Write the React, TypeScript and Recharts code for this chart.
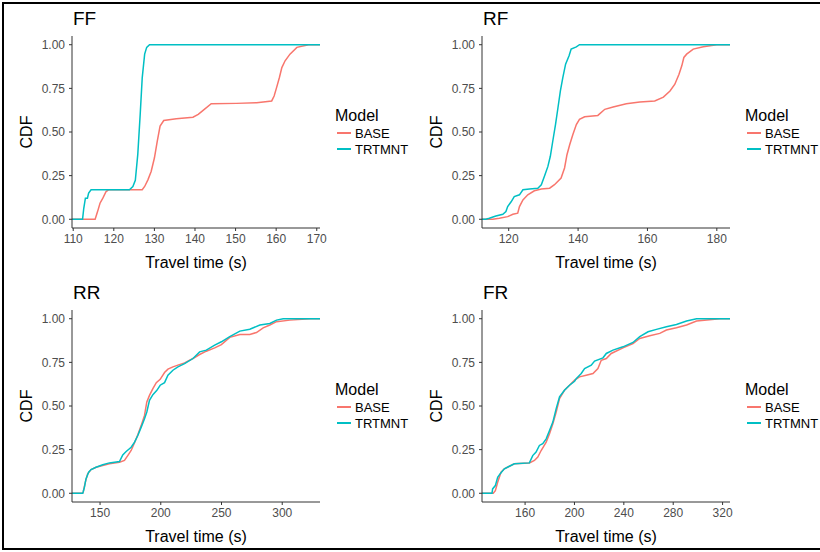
import React from 'react';
import { LineChart, Line, XAxis, YAxis, Label } from 'recharts';

const BASE_COLOR = '#F8766D';
const TRT_COLOR = '#00BFC4';
const FONT = '"Liberation Sans", Arial, sans-serif';

// ECDF: [travel time (s), CDF]
const ffBase: [number, number][] = [
  [109.7, 0], [115.4, 0], [116.0, 0.044], [116.6, 0.092], [117.3, 0.121], [118.1, 0.159],
  [118.7, 0.169], [127.0, 0.169], [127.6, 0.188], [128.4, 0.226], [129.2, 0.274], [130.0, 0.351],
  [130.7, 0.447], [131.4, 0.534], [132.3, 0.566], [135.4, 0.576], [139.5, 0.585], [140.8, 0.601],
  [142.0, 0.624], [144.0, 0.662], [150.2, 0.664], [155.2, 0.668], [158.9, 0.678], [159.5, 0.706],
  [160.1, 0.754], [160.8, 0.812], [161.4, 0.869], [162.2, 0.908], [163.4, 0.946], [165.1, 0.985],
  [168.0, 1], [170.8, 1],
];
const ffTrt: [number, number][] = [
  [109.7, 0], [112.3, 0], [112.6, 0.063], [113.0, 0.121], [113.5, 0.121], [113.8, 0.15],
  [114.4, 0.169], [123.85, 0.169], [124.7, 0.188], [125.3, 0.223], [125.9, 0.37], [126.5, 0.6],
  [127.0, 0.81], [127.6, 0.946], [128.1, 0.985], [128.8, 1], [170.8, 1],
];

const rfBase: [number, number][] = [
  [112.3, 0], [115.4, 0], [117.3, 0.006], [119.7, 0.015], [121.2, 0.029], [122.6, 0.035],
  [123.1, 0.073], [124.1, 0.111], [125.5, 0.14], [127.4, 0.163], [129.4, 0.173], [131.8, 0.178],
  [133.2, 0.198], [135.1, 0.236], [136.1, 0.294], [136.8, 0.37], [137.6, 0.428], [138.5, 0.486],
  [139.5, 0.543], [140.4, 0.572], [141.9, 0.587], [145.7, 0.595], [147.7, 0.63], [150.1, 0.643],
  [153.9, 0.662], [157.8, 0.672], [162.1, 0.678], [164.6, 0.7], [166.5, 0.735], [167.9, 0.774],
  [169.1, 0.831], [169.9, 0.879], [170.5, 0.927], [171.3, 0.946], [173.2, 0.975], [176.1, 0.988],
  [180.0, 1], [183.8, 1],
];
const rfTrt: [number, number][] = [
  [112.3, 0], [113.4, 0], [114.4, 0.006], [116.3, 0.019], [118.3, 0.029], [119.2, 0.044],
  [119.7, 0.073], [120.7, 0.1], [121.6, 0.13], [123.1, 0.14], [124.1, 0.169], [126.0, 0.173],
  [128.4, 0.178], [129.4, 0.198], [130.3, 0.246], [131.3, 0.303], [132.0, 0.361], [132.7, 0.447],
  [133.5, 0.543], [134.2, 0.639], [134.9, 0.735], [135.6, 0.812], [136.4, 0.889], [137.4, 0.937],
  [138.0, 0.975], [139.5, 0.988], [140.4, 1], [183.8, 1],
];

const rrBase: [number, number][] = [
  [126.9, 0], [135.7, 0], [136.2, 0.01], [137.9, 0.064], [139.8, 0.111], [142.6, 0.136],
  [146.7, 0.149], [152.2, 0.159], [157.7, 0.169], [166.0, 0.178], [170.1, 0.188], [172.8, 0.216],
  [175.6, 0.245], [178.4, 0.289], [181.1, 0.335], [183.9, 0.389], [186.6, 0.446], [188.5, 0.523],
  [190.7, 0.561], [193.5, 0.6], [196.3, 0.634], [199.5, 0.653], [203.1, 0.692], [205.9, 0.711],
  [210.0, 0.724], [214.1, 0.734], [219.6, 0.747], [226.5, 0.772], [232.0, 0.795], [237.5, 0.814],
  [244.4, 0.833], [249.9, 0.852], [256.8, 0.893], [265.1, 0.91], [273.3, 0.91], [278.8, 0.921],
  [284.3, 0.948], [289.8, 0.964], [295.3, 0.983], [306.3, 0.992], [322.9, 1], [331.1, 1],
];
const rrTrt: [number, number][] = [
  [126.9, 0], [135.7, 0], [136.2, 0.01], [137.1, 0.034], [138.4, 0.082], [140.6, 0.121],
  [142.6, 0.136], [146.7, 0.149], [152.2, 0.163], [157.7, 0.174], [166.0, 0.182], [168.7, 0.22],
  [171.5, 0.239], [175.6, 0.264], [178.4, 0.293], [181.1, 0.331], [183.9, 0.379], [186.6, 0.427],
  [188.5, 0.466], [190.7, 0.533], [193.5, 0.565], [196.8, 0.59], [199.5, 0.619], [203.1, 0.634],
  [205.9, 0.676], [210.0, 0.705], [214.1, 0.724], [219.6, 0.743], [226.5, 0.772], [232.0, 0.81],
  [237.5, 0.82], [244.4, 0.849], [249.9, 0.868], [256.8, 0.897], [265.1, 0.929], [273.3, 0.94],
  [281.6, 0.964], [289.8, 0.973], [295.3, 0.992], [300.8, 1], [331.1, 1],
];

const frBase: [number, number][] = [
  [125.1, 0], [134.2, 0], [135.9, 0.015], [137.8, 0.063], [140.5, 0.121], [143.2, 0.14],
  [147.3, 0.155], [151.3, 0.169], [163.5, 0.174], [167.6, 0.188], [170.3, 0.207], [173.0, 0.245],
  [177.1, 0.293], [179.8, 0.341], [182.5, 0.398], [185.2, 0.466], [187.9, 0.542], [191.9, 0.59],
  [196.0, 0.619], [200.1, 0.648], [204.1, 0.667], [209.5, 0.676], [215.0, 0.686], [219.0, 0.715],
  [221.7, 0.762], [225.8, 0.772], [229.8, 0.801], [239.3, 0.833], [247.4, 0.858], [252.9, 0.887],
  [261.0, 0.902], [269.1, 0.916], [274.5, 0.935], [282.6, 0.948], [290.8, 0.964], [298.9, 0.987],
  [317.8, 1], [326.0, 1],
];
const frTrt: [number, number][] = [
  [125.1, 0], [133.2, 0], [133.7, 0.025], [135.9, 0.044], [137.8, 0.092], [139.7, 0.111],
  [143.2, 0.14], [147.3, 0.155], [151.3, 0.169], [163.5, 0.174], [166.2, 0.216], [168.9, 0.236],
  [171.6, 0.274], [174.3, 0.284], [177.1, 0.312], [179.8, 0.36], [182.5, 0.408], [185.2, 0.485],
  [187.9, 0.552], [191.9, 0.59], [196.0, 0.619], [200.1, 0.642], [201.4, 0.657], [205.5, 0.686],
  [208.2, 0.715], [213.6, 0.734], [216.3, 0.757], [223.1, 0.776], [225.8, 0.801], [231.2, 0.82],
  [239.3, 0.839], [247.4, 0.864], [252.9, 0.897], [259.6, 0.925], [266.4, 0.939], [274.5, 0.954],
  [282.6, 0.967], [290.8, 0.987], [298.9, 1], [326.0, 1],
];

const ffTicks = [110, 120, 130, 140, 150, 160, 170];
const rfTicks = [120, 140, 160, 180];
const rrTicks = [150, 200, 250, 300];
const frTicks = [160, 200, 240, 280, 320];
const cdfTicks = [0, 0.25, 0.5, 0.75, 1];

const panels = [
  { title: 'FF', base: ffBase, trt: ffTrt, domain: [109.7, 170.8], ticks: ffTicks },
  { title: 'RF', base: rfBase, trt: rfTrt, domain: [112.3, 183.8], ticks: rfTicks },
  { title: 'RR', base: rrBase, trt: rrTrt, domain: [126.9, 331.1], ticks: rrTicks },
  { title: 'FR', base: frBase, trt: frTrt, domain: [125.1, 326.0], ticks: frTicks },
];

const toRows = (pts: [number, number][]) => pts.map(([t, p]) => ({ t, p }));

const XTitle = (props: any) => {
  const { x, y, width } = props.viewBox;
  return (
    <text x={x + width / 2} y={y + 34} textAnchor="middle" dominantBaseline="central"
      fontSize={16} fontFamily={FONT} fill="#000">Travel time (s)</text>
  );
};

const YTitle = (props: any) => {
  const { x, y, height } = props.viewBox;
  const cx = x + 14;
  const cy = y + height / 2;
  return (
    <text x={cx} y={cy} transform={`rotate(-90, ${cx}, ${cy})`} textAnchor="middle"
      dominantBaseline="central" fontSize={16} fontFamily={FONT} fill="#000">CDF</text>
  );
};

const LegendBox = () => (
  <div style={{ position: 'absolute', left: 335, top: 107, fontFamily: FONT, color: '#000' }}>
    <div style={{ fontSize: 16, lineHeight: '18px' }}>Model</div>
    {[['BASE', BASE_COLOR], ['TRTMNT', TRT_COLOR]].map(([name, color]) => (
      <div key={name} style={{ display: 'flex', alignItems: 'center', height: 16 }}>
        <div style={{ width: 14, height: 2, background: color, marginLeft: 2, marginRight: 4, flex: 'none' }} />
        <span style={{ fontSize: 13 }}>{name}</span>
      </div>
    ))}
  </div>
);

const Panel = ({ panel, index }: { panel: typeof panels[number]; index: number }) => {
  const left = (index % 2) * 410;
  const top = Math.floor(index / 2) * 274;
  return (
    <div style={{ position: 'absolute', left, top, width: 410, height: 276 }}>
      <div style={{ position: 'absolute', left: 73, top: 8, fontSize: 19, fontFamily: FONT, color: '#000' }}>
        {panel.title}
      </div>
      <LineChart width={410} height={276} margin={{ top: 36, right: 90, left: 12, bottom: 6 }}>
        <XAxis type="number" dataKey="t" domain={panel.domain} ticks={panel.ticks} allowDataOverflow
          interval={0} height={42} tickSize={3} tickMargin={3} stroke="#333"
          tick={{ fill: '#4d4d4d', fontSize: 12, fontFamily: FONT }}>
          <Label content={XTitle} />
        </XAxis>
        <YAxis type="number" domain={[-0.05, 1.05]} ticks={cdfTicks} allowDataOverflow interval={0}
          width={60} tickSize={3} tickMargin={4} stroke="#333"
          tickFormatter={(v: number) => v.toFixed(2)}
          tick={{ fill: '#4d4d4d', fontSize: 12, fontFamily: FONT }}>
          <Label content={YTitle} />
        </YAxis>
        <Line data={toRows(panel.base)} dataKey="p" type="linear" stroke={BASE_COLOR} strokeWidth={1.5}
          dot={false} activeDot={false} isAnimationActive={false} />
        <Line data={toRows(panel.trt)} dataKey="p" type="linear" stroke={TRT_COLOR} strokeWidth={1.5}
          dot={false} activeDot={false} isAnimationActive={false} />
      </LineChart>
      <LegendBox />
    </div>
  );
};

export default function App() {
  return (
    <div style={{ position: 'relative', width: 820, height: 552, overflow: 'hidden', background: '#fff' }}>
      <style>{`body { margin: 0; }`}</style>
      <div style={{ position: 'absolute', left: 2, top: 2, width: 830, height: 544, border: '2px solid #000' }} />
      {panels.map((p, i) => (
        <Panel key={p.title} panel={p} index={i} />
      ))}
    </div>
  );
}
